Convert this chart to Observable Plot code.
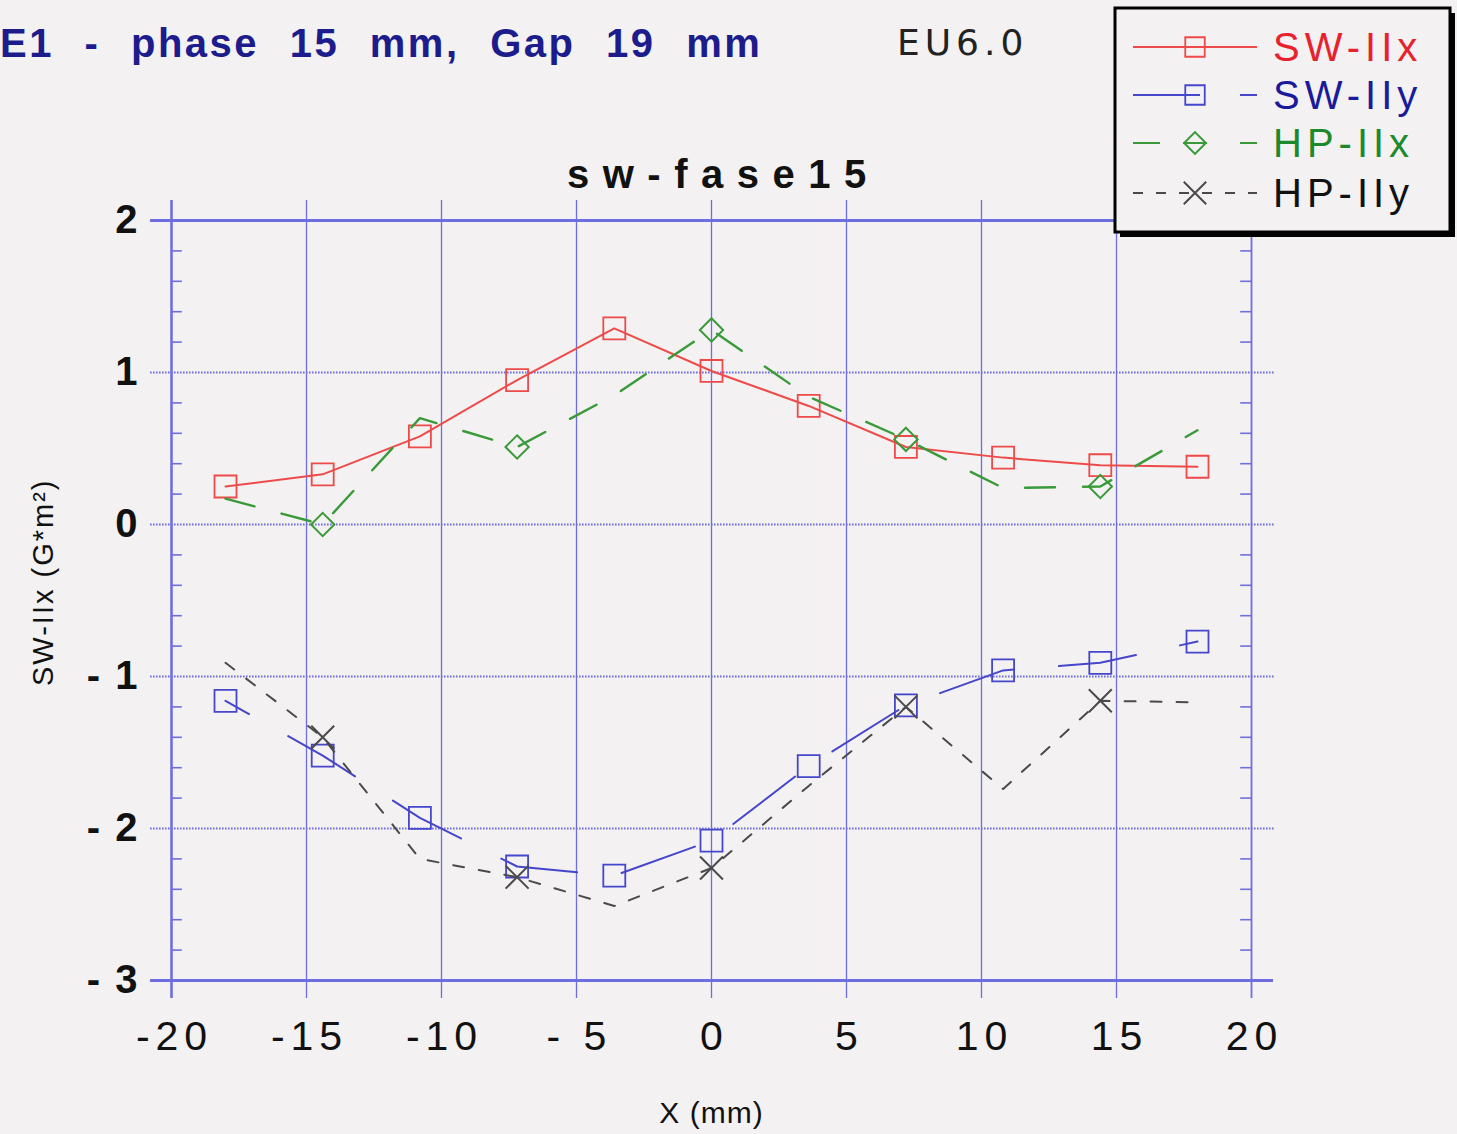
<!DOCTYPE html>
<html><head><meta charset="utf-8">
<script src="https://cdn.jsdelivr.net/npm/d3@7"></script>
<script src="https://cdn.jsdelivr.net/npm/@observablehq/plot@0.6"></script>
<style>
html,body{margin:0;padding:0;background:#f3f1f1;}
#wrap{position:relative;width:1457px;height:1134px;overflow:hidden;font-family:"Liberation Sans",Arial,sans-serif;background:#f3f1f1;}
#chart{position:absolute;left:0;top:0;}
.title{position:absolute;left:0px;top:23px;line-height:1;font-size:40px;font-weight:bold;color:#1c1c8c;letter-spacing:2.5px;word-spacing:17px;white-space:nowrap;}
.hand{position:absolute;left:897px;top:25px;line-height:1;font-size:36px;color:#222;letter-spacing:5px;font-family:"DejaVu Sans",sans-serif;font-weight:normal;white-space:nowrap;}
.sub{position:absolute;left:567px;top:154px;line-height:1;font-size:40px;font-weight:bold;color:#111;letter-spacing:13.5px;white-space:nowrap;}
#legend{position:absolute;left:1110px;top:3px;}
</style>
</head>
<body>
<div id="wrap">
  <div id="chart"></div>
  <div class="title" id="title"></div>
  <div class="hand" id="hand"></div>
  <div class="sub" id="sub"></div>
  <div id="legend"></div>
</div>
<script>
// ---- texts ----
const titleText = "E1 - phase 15 mm, Gap 19 mm";
const noteText = "EU6.0";
const subtitleText = "sw-fase15";
const xTitle = "X (mm)";
const yTitle = "SW-IIx (G*m²)";

// ---- data ----
const xPos = [-18, -14.4, -10.8, -7.2, -3.6, 0, 3.6, 7.2, 10.8, 14.4, 18];
const swIIx = [0.25, 0.33, 0.58, 0.95, 1.29, 1.01, 0.78, 0.51, 0.44, 0.39, 0.38];
const swIIy = [-1.16, -1.52, -1.93, -2.25, -2.31, -2.08, -1.59, -1.19, -0.96, -0.91, -0.77];
const hpIIx = [0.17, 0.0, 0.70, 0.51, 0.85, 1.28, 0.84, 0.56, 0.24, 0.25, 0.62];
const hpIIy = [-0.91, -1.40, -2.20, -2.32, -2.51, -2.26, -1.72, -1.20, -1.74, -1.16, -1.17];
const hpMarkerX = [-14.4, -7.2, 0, 7.2, 14.4];

const seriesNames = ["SW-IIx", "SW-IIy", "HP-IIx", "HP-IIy"];
const seriesText = ["#e8222c", "#1a1a9a", "#1c8a2c", "#111111"];

// ---- ticks ----
const xTicks = [-20, -15, -10, -5, 0, 5, 10, 15, 20];
const xTickLabels = ["-20", "-15", "-10", "- 5", "0", "5", "10", "15", "20"];
const yTicks = [2, 1, 0, -1, -2, -3];
const yTickLabels = ["2", "1", "0", "- 1", "- 2", "- 3"];
const yMinor = d3.range(-30, 21, 2).map(v => v / 10).filter(v => Math.abs(v - Math.round(v)) > 1e-6);

// ---- styles ----
const grid = "#6e6ee0";
const cRed = "#ee4a4a", cBlue = "#4646cc", cGreen = "#3a9a3a", cBlack = "#4a4a4a";

const rows = ys => xPos.map((x, i) => ({x, y: ys[i]}));
const dRed = rows(swIIx), dBlue = rows(swIIy), dGreen = rows(hpIIx), dBlack = rows(hpIIy);
const mGreen = dGreen.filter(d => hpMarkerX.includes(d.x));
const mBlack = dBlack.filter(d => hpMarkerX.includes(d.x));

const svg = Plot.plot({
  width: 1457, height: 1134,
  marginLeft: 171, marginRight: 206, marginTop: 220, marginBottom: 154,
  x: {domain: [-20, 20], axis: null},
  y: {domain: [-3, 2], axis: null},
  style: {background: "#f3f1f1", fontFamily: "'Liberation Sans', Arial, sans-serif", color: "#111"},
  marks: [
    Plot.ruleX(xTicks, {x: d => d, y1: 2, y2: -3, insetTop: -20, insetBottom: -18, stroke: grid,
      strokeWidth: d => d === -20 ? 2.6 : (d === 20 ? 1.8 : 1.3)}),
    Plot.ruleY(yTicks.filter(v => v !== 2 && v !== -3), {y: d => d, x1: -20, x2: 20, insetLeft: -21, insetRight: -24,
      stroke: grid, strokeWidth: 2.2, strokeDasharray: "1.6,1.4"}),
    Plot.ruleY([2, -3], {y: d => d, x1: -20, x2: 20, insetLeft: -21, insetRight: -22, stroke: grid, strokeWidth: 3}),
    Plot.ruleY(yMinor, {y: d => d, x1: -20, x2: -19.6, stroke: grid, strokeWidth: 1.6}),
    Plot.ruleY(yMinor, {y: d => d, x1: 19.6, x2: 20, stroke: grid, strokeWidth: 1.6}),
    Plot.text(xTicks, {x: d => d, y: -3, text: (d, i) => xTickLabels[i], dy: 56, dx: 3, fontSize: 41, fill: "#111"}),
    Plot.text(yTicks, {x: -20, y: d => d, text: (d, i) => yTickLabels[i], dx: -32, textAnchor: "end", fontSize: 40, fontWeight: "bold", fill: "#111"}),
    Plot.text([xTitle], {x: 0, y: -3, text: d => d, dy: 133, fontSize: 30, fill: "#111"}),
    Plot.text([yTitle], {x: -20, y: -0.38, text: d => d, dx: -128, rotate: -90, fontSize: 29, fill: "#111"}),
    Plot.line(dRed, {x: "x", y: "y", stroke: cRed, strokeWidth: 2}),
    Plot.dot(dRed, {x: "x", y: "y", symbol: "square", r: 12.4, stroke: cRed, strokeWidth: 1.8, fill: "none"}),
    Plot.line(dBlue, {x: "x", y: "y", stroke: cBlue, strokeWidth: 2, strokeDasharray: "78,45", strokeDashoffset: 51}),
    Plot.dot(dBlue, {x: "x", y: "y", symbol: "square", r: 12.4, stroke: cBlue, strokeWidth: 1.8, fill: "none"}),
    Plot.line(dGreen, {x: "x", y: "y", stroke: cGreen, strokeWidth: 2.4, strokeDasharray: "30,28"}),
    Plot.dot(mGreen, {x: "x", y: "y", symbol: "diamond2", r: 10.5, stroke: cGreen, strokeWidth: 2, fill: "none"}),
    Plot.line(dBlack, {x: "x", y: "y", stroke: cBlack, strokeWidth: 2, strokeDasharray: "11,15"}),
    Plot.dot(mBlack, {x: "x", y: "y", symbol: "times", r: 10.5, stroke: cBlack, strokeWidth: 2})
  ]
});

const textGroups = d3.select(svg).selectAll('g[aria-label="text"]').nodes();
d3.select(textGroups[0]).style("letter-spacing", "6px");
d3.select(textGroups[1]).style("letter-spacing", "2px");
d3.select(textGroups[2]).style("letter-spacing", "1px");
d3.select(textGroups[3]).style("letter-spacing", "2px");
document.getElementById("chart").append(svg);

document.getElementById("title").textContent = titleText;
document.getElementById("hand").textContent = noteText;
document.getElementById("sub").textContent = subtitleText;

// ---- legend ----
const lg = d3.select("#legend").append("svg").attr("width", 347).attr("height", 240);
lg.append("rect").attr("x", 10).attr("y", 10).attr("width", 335).attr("height", 224).attr("fill", "#000");
lg.append("rect").attr("x", 5).attr("y", 5).attr("width", 335).attr("height", 224)
  .attr("fill", "#f3f1f1").attr("stroke", "#000").attr("stroke-width", 3);
const legendRows = [
  {stroke: cRed, dash: null, sym: d3.symbolSquare, size: 380, w: 1.8},
  {stroke: cBlue, dash: "67,40,30", sym: d3.symbolSquare, size: 380, w: 1.8},
  {stroke: cGreen, dash: "27,23,24,33,30", sym: d3.symbolDiamond2, size: 300, w: 2},
  {stroke: cBlack, dash: "10,13", sym: d3.symbolTimes, size: 330, w: 2}
];
const rowY = [44, 92, 140, 190];
legendRows.forEach((r, i) => {
  const y = rowY[i];
  const ln = lg.append("line").attr("x1", 23).attr("x2", 147).attr("y1", y).attr("y2", y)
    .attr("stroke", r.stroke).attr("stroke-width", 2);
  if (r.dash) ln.attr("stroke-dasharray", r.dash);
  lg.append("path").attr("d", d3.symbol(r.sym, r.size)()).attr("transform", `translate(85,${y})`)
    .attr("fill", "none").attr("stroke", r.stroke).attr("stroke-width", r.w);
  lg.append("text").attr("x", 163).attr("y", y + 14).text(seriesNames[i])
    .attr("fill", seriesText[i]).attr("font-size", 40).style("letter-spacing", "5px")
    .attr("font-family", "'Liberation Sans', Arial, sans-serif");
});
</script>
</body></html>
